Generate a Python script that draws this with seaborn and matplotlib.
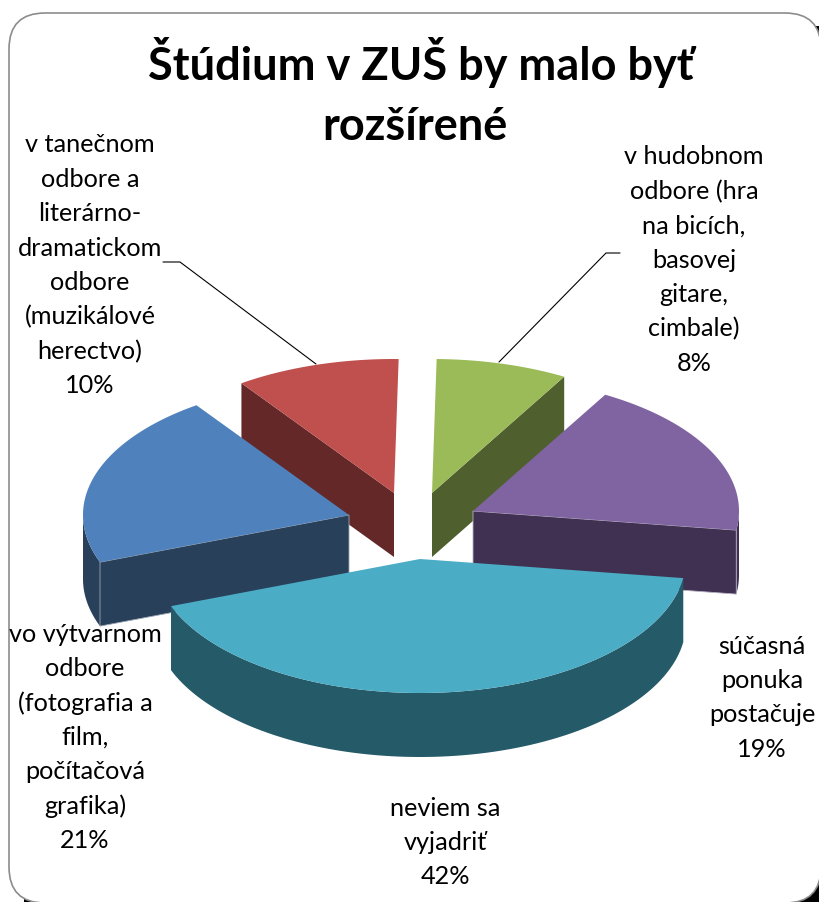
import numpy as np
import seaborn as sns
import matplotlib.pyplot as plt
from matplotlib.patches import Polygon, FancyBboxPatch

sns.set_theme(style="white")
plt.rcParams['font.family'] = ['Lato', 'DejaVu Sans']

title_lines = ["Štúdium v ZUŠ by malo byť", "rozšírené"]
names = ["v hudobnom\nodbore (hra\nna bicích,\nbasovej\ngitare,\ncimbale)",
         "súčasná\nponuka\npostačuje",
         "neviem sa\nvyjadriť",
         "vo výtvarnom\nodbore\n(fotografia a\nfilm,\npočítačová\ngrafika)",
         "v tanečnom\nodbore a\nliterárno-\ndramatickom\nodbore\n(muzikálové\nherectvo)"]
percent = [8, 19, 42, 21, 10]

top_colors = ["#9BBB59", "#8064A2", "#4BACC6", "#4F81BD", "#C0504D"]
side_colors = ["#4F5F2E", "#403152", "#255A68", "#284059", "#632827"]

# pixel layout of the exploded pie
apex_x = [432, 473, 420, 349, 394]
apex_y = [493, 511, 559, 515, 493]
label_x = [694, 762, 445, 85, 90]
label_y = [157, 646, 808, 634, 145]
RX, RY, DEPTH = 266, 134, 64
START = 1.0
LINE = 34.4


def arc(cx, cy, a0, a1, dy=0):
    t = np.radians(np.linspace(a0, a1, 120))
    return np.column_stack([cx + RX * np.sin(t), cy + dy - RY * np.cos(t)])


def cut_face(cx, cy, ang):
    p = arc(cx, cy, ang, ang)[0]
    return [(cx, cy), p, (p[0], p[1] + DEPTH), (cx, cy + DEPTH)]


def outer_face(cx, cy, a0, a1):
    return np.vstack([arc(cx, cy, a0, a1), arc(cx, cy, a0, a1, DEPTH)[::-1]])


fig, ax = plt.subplots(figsize=(8.2, 9.02), dpi=100)
fig.subplots_adjust(0, 0, 1, 1)
ax.set_xlim(0, 820)
ax.set_ylim(902, 0)
ax.axis("off")

# chart frame with the dark shadow showing in the corners
ax.add_patch(FancyBboxPatch((24, 26), 900, 950, boxstyle="round,pad=0,rounding_size=3",
                            fc="black", ec="none", zorder=0))
ax.add_patch(FancyBboxPatch((9, 13), 812, 890, boxstyle="round,pad=0,rounding_size=36",
                            fc="white", ec="#8c8c8c", lw=1.2, zorder=1))

edges = np.cumsum([0] + percent) * 3.6 + START
order = [4, 0, 3, 1, 2]
for i in order:
    a0, a1 = edges[i], edges[i + 1]
    cx, cy = apex_x[i], apex_y[i]
    z = 2 + order.index(i)
    # sides facing the viewer
    if i == 0:
        ax.add_patch(Polygon(cut_face(cx, cy, a1), fc=side_colors[i], ec="none", zorder=z))
    if i == 4:
        ax.add_patch(Polygon(cut_face(cx, cy, a0), fc=side_colors[i], ec="none", zorder=z))
    if i == 1:
        ax.add_patch(Polygon(outer_face(cx, cy, 90, a1), fc=side_colors[i], ec="none", zorder=z))
        ax.add_patch(Polygon(cut_face(cx, cy, a1), fc=side_colors[i], ec="#b9b3c4", lw=0.6, zorder=z))
    if i == 3:
        ax.add_patch(Polygon(outer_face(cx, cy, a0, 270), fc=side_colors[i], ec="none", zorder=z))
        ax.add_patch(Polygon(cut_face(cx, cy, a0), fc=side_colors[i], ec="#9aa6b4", lw=0.6, zorder=z))
    if i == 2:
        ax.add_patch(Polygon(outer_face(cx, cy, a0, a1), fc=side_colors[i], ec="none", zorder=z))
    top = np.vstack([[cx, cy], arc(cx, cy, a0, a1)])
    ax.add_patch(Polygon(top, fc=top_colors[i], ec="none", zorder=z + 0.5))

# leader lines
ax.plot([163, 180, 316], [262, 262, 364], color="black", lw=0.8, zorder=2)
ax.plot([620, 606, 499], [253, 253, 362], color="black", lw=0.8, zorder=2)

ax.text(421, 62, title_lines[0], ha="center", va="center", fontsize=32.5, fontweight="bold",
        color="black", zorder=10)
ax.text(415, 127, title_lines[1], ha="center", va="center", fontsize=32.5, fontweight="bold",
        color="black", zorder=10)

for i in range(5):
    lines = names[i].split("\n") + [f"{percent[i]}%"]
    for j, s in enumerate(lines):
        ax.text(label_x[i], label_y[i] + j * LINE, s, ha="center", va="center",
                fontsize=18.2, color="black", zorder=10)

fig.savefig("out.png", dpi=100)
